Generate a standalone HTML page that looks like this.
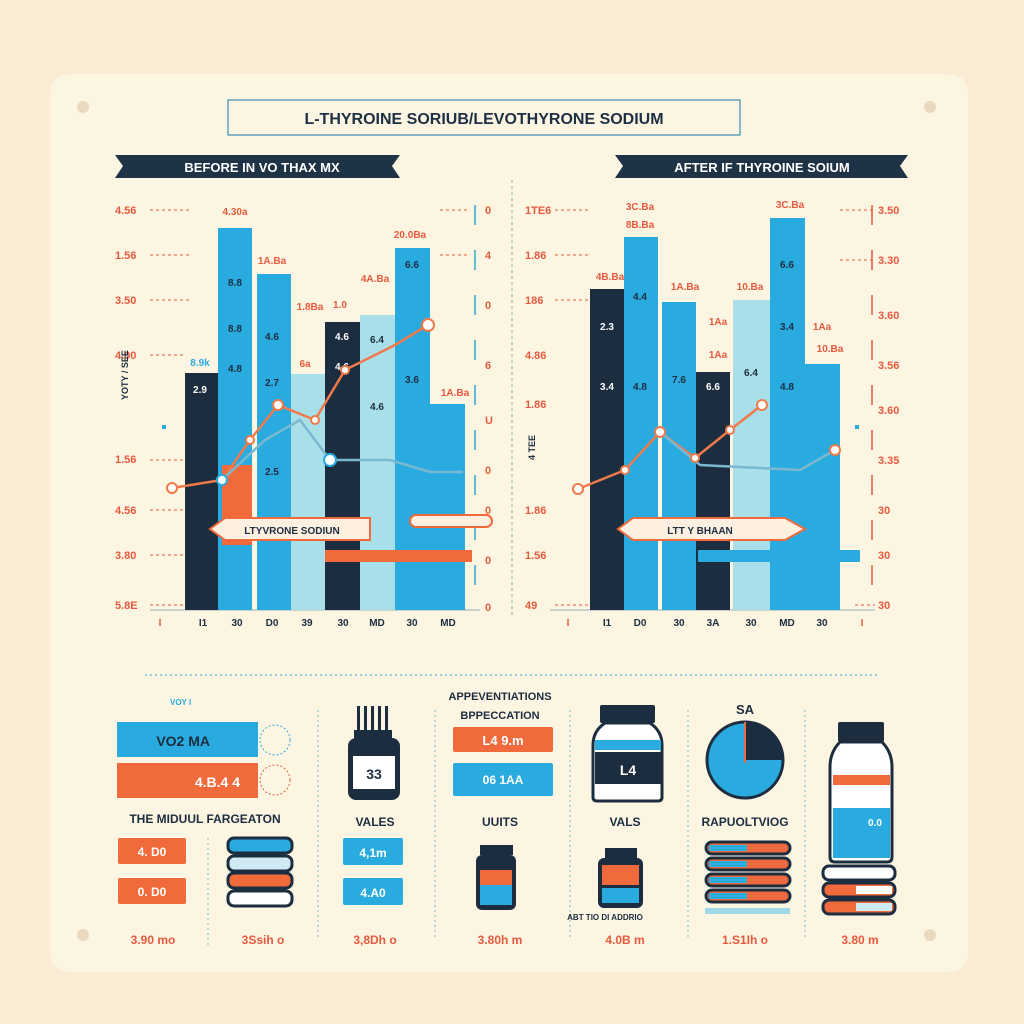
<!DOCTYPE html>
<html><head><meta charset="utf-8"><style>
html,body{margin:0;padding:0;background:#f9ebd4}
svg{display:block}
text{font-family:"Liberation Sans",sans-serif;font-weight:bold}
</style></head><body>
<svg width="1024" height="1024" viewBox="0 0 1024 1024" xmlns="http://www.w3.org/2000/svg">
<rect width="1024" height="1024" fill="#f9ebd4"/>
<rect x="50" y="74" width="918" height="898" rx="18" fill="#fcf5e2"/>
<circle cx="83" cy="107" r="6" fill="#ead9bf"/><circle cx="930" cy="107" r="6" fill="#ead9bf"/>
<circle cx="83" cy="935" r="6" fill="#ead9bf"/><circle cx="930" cy="935" r="6" fill="#ead9bf"/>
<!-- title -->
<rect x="228" y="100" width="512" height="35" fill="none" stroke="#3a8fb5" stroke-width="1.2"/>
<text x="484" y="124" font-size="16" text-anchor="middle" fill="#1d2f45">L-THYROINE SORIUB/LEVOTHYRONE SODIUM</text>
<!-- banners -->
<polygon points="115,155 400,155 392,166 400,178 115,178 123,166" fill="#1f3347"/>
<text x="262" y="172" font-size="13" text-anchor="middle" fill="#fff">BEFORE IN   VO THAX MX</text>
<polygon points="615,155 908,155 900,166 908,178 615,178 623,166" fill="#1f3347"/>
<text x="762" y="172" font-size="13" text-anchor="middle" fill="#fff">AFTER IF THYROINE SOIUM</text>
<line x1="512" y1="180" x2="512" y2="615" stroke="#8aa" stroke-dasharray="3,3"/>
<!-- left axes -->
<g fill="#e65a3f" font-size="11">
<text x="115" y="214">4.56</text><text x="115" y="259">1.56</text><text x="115" y="304">3.50</text><text x="115" y="359">4.00</text><text x="115" y="463">1.56</text><text x="115" y="514">4.56</text><text x="115" y="559">3.80</text><text x="115" y="609">5.8E</text>
<text x="485" y="214">0</text><text x="485" y="259">4</text><text x="485" y="309">0</text><text x="485" y="369">6</text><text x="485" y="424">U</text><text x="485" y="474">0</text><text x="485" y="514">0</text><text x="485" y="564">0</text><text x="485" y="611">0</text>
<text x="525" y="214">1TE6</text><text x="525" y="259">1.86</text><text x="525" y="304">186</text><text x="525" y="359">4.86</text><text x="525" y="408">1.86</text><text x="525" y="514">1.86</text><text x="525" y="559">1.56</text><text x="525" y="609">49</text>
<text x="878" y="214">3.50</text><text x="878" y="264">3.30</text><text x="878" y="319">3.60</text><text x="878" y="369">3.56</text><text x="878" y="414">3.60</text><text x="878" y="464">3.35</text><text x="878" y="514">30</text><text x="878" y="559">30</text><text x="878" y="609">30</text>
</g>
<g stroke="#e65a3f" stroke-dasharray="3,3" stroke-width="1">
<line x1="150" y1="210" x2="190" y2="210"/><line x1="150" y1="255" x2="190" y2="255"/><line x1="150" y1="300" x2="190" y2="300"/><line x1="150" y1="355" x2="185" y2="355"/><line x1="150" y1="460" x2="185" y2="460"/><line x1="150" y1="510" x2="185" y2="510"/><line x1="150" y1="555" x2="185" y2="555"/><line x1="150" y1="605" x2="185" y2="605"/>
<line x1="440" y1="210" x2="470" y2="210"/><line x1="440" y1="255" x2="470" y2="255"/>
<line x1="555" y1="210" x2="590" y2="210"/><line x1="555" y1="255" x2="590" y2="255"/><line x1="555" y1="300" x2="590" y2="300"/><line x1="555" y1="605" x2="590" y2="605"/>
<line x1="840" y1="210" x2="875" y2="210"/><line x1="840" y1="260" x2="875" y2="260"/><line x1="855" y1="605" x2="875" y2="605"/>
</g>
<line x1="475" y1="205" x2="475" y2="610" stroke="#2fa5d4" stroke-width="1.5" stroke-dasharray="20,25"/>
<line x1="872" y1="205" x2="872" y2="610" stroke="#e65a3f" stroke-width="1.5" stroke-dasharray="20,25"/>
<line x1="150" y1="610" x2="480" y2="610" stroke="#9ab" />
<line x1="550" y1="610" x2="875" y2="610" stroke="#9ab" />
<!-- left bars -->
<rect x="185" y="373" width="33" height="237" fill="#1c2d40"/>
<rect x="218" y="228" width="34" height="382" fill="#2aabe0"/>
<rect x="222" y="465" width="30" height="80" fill="#f06a3c"/>
<rect x="257" y="274" width="34" height="336" fill="#2aabe0"/>
<rect x="291" y="374" width="34" height="236" fill="#a9dfe8"/>
<rect x="325" y="322" width="35" height="288" fill="#1c2d40"/>
<rect x="360" y="315" width="35" height="295" fill="#a9dfe8"/>
<rect x="395" y="248" width="35" height="362" fill="#2aabe0"/>
<rect x="430" y="404" width="35" height="206" fill="#2aabe0"/>
<!-- right bars -->
<rect x="590" y="289" width="34" height="321" fill="#1c2d40"/>
<rect x="624" y="237" width="34" height="373" fill="#2aabe0"/>
<rect x="662" y="302" width="34" height="308" fill="#2aabe0"/>
<rect x="696" y="372" width="34" height="238" fill="#1c2d40"/>
<rect x="733" y="300" width="37" height="310" fill="#a9dfe8"/>
<rect x="770" y="218" width="35" height="392" fill="#2aabe0"/>
<rect x="805" y="364" width="35" height="246" fill="#2aabe0"/>
<!-- bar labels -->
<g font-size="10" fill="#1c2d40" text-anchor="middle">
<text x="235" y="286">8.8</text><text x="235" y="332">8.8</text><text x="235" y="372">4.8</text><text x="272" y="340">4.6</text><text x="272" y="386">2.7</text><text x="272" y="475">2.5</text><text x="342" y="340" fill="#fff">4.6</text><text x="342" y="370" fill="#fff">4.6</text><text x="377" y="343">6.4</text><text x="377" y="410">4.6</text><text x="412" y="268">6.6</text><text x="412" y="383">3.6</text><text x="200" y="366" fill="#2aabe0">8.9k</text><text x="200" y="393" fill="#fff">2.9</text>
<text x="607" y="330" fill="#fff">2.3</text><text x="607" y="390" fill="#fff">3.4</text><text x="640" y="300">4.4</text><text x="640" y="390">4.8</text><text x="679" y="383">7.6</text><text x="713" y="390" fill="#fff">6.6</text><text x="751" y="376">6.4</text><text x="787" y="268">6.6</text><text x="787" y="330">3.4</text><text x="787" y="390">4.8</text>
</g>
<g font-size="10" fill="#e65a3f" text-anchor="middle">
<text x="235" y="215">4.30a</text><text x="272" y="264">1A.Ba</text><text x="310" y="310">1.8Ba</text><text x="340" y="308">1.0</text><text x="375" y="282">4A.Ba</text><text x="410" y="238">20.0Ba</text><text x="305" y="367">6a</text><text x="455" y="396">1A.Ba</text>
<text x="640" y="210">3C.Ba</text><text x="640" y="228">8B.Ba</text><text x="610" y="280">4B.Ba</text><text x="685" y="290">1A.Ba</text><text x="718" y="325">1Aa</text><text x="718" y="358">1Aa</text><text x="750" y="290">10.Ba</text><text x="790" y="208">3C.Ba</text><text x="822" y="330">1Aa</text><text x="830" y="352">10.Ba</text>
</g>
<!-- lines left -->
<polyline points="172,488 222,480 250,440 278,405 315,420 345,370 395,345 428,325" fill="none" stroke="#f07a4a" stroke-width="2.5"/>
<polyline points="222,480 265,440 300,420 330,460 390,460 430,472 463,472" fill="none" stroke="#7ab8d0" stroke-width="2.5"/>
<g fill="#fff" stroke="#f07a4a" stroke-width="2"><circle cx="172" cy="488" r="5"/><circle cx="250" cy="440" r="4"/><circle cx="278" cy="405" r="5"/><circle cx="315" cy="420" r="4"/><circle cx="345" cy="370" r="4"/><circle cx="428" cy="325" r="6"/></g>
<g fill="#fff" stroke="#2aabe0" stroke-width="2"><circle cx="222" cy="480" r="5"/><circle cx="330" cy="460" r="6"/></g>
<!-- lines right -->
<polyline points="578,489 625,470 660,432 695,458 730,430 762,405" fill="none" stroke="#f07a4a" stroke-width="2.5"/>
<polyline points="660,432 700,465 760,468 800,470 835,450" fill="none" stroke="#7ab8d0" stroke-width="2.5"/>
<g fill="#fff" stroke="#f07a4a" stroke-width="2"><circle cx="578" cy="489" r="5"/><circle cx="625" cy="470" r="4"/><circle cx="660" cy="432" r="5"/><circle cx="695" cy="458" r="4"/><circle cx="730" cy="430" r="4"/><circle cx="762" cy="405" r="5"/><circle cx="835" cy="450" r="5"/></g>
<!-- arrows -->
<polygon points="210,529 225,518 370,518 370,540 225,540" fill="#fdf0e0" stroke="#f06a3c" stroke-width="2"/>
<text x="292" y="534" font-size="10" text-anchor="middle" fill="#1c2d40">LTYVRONE SODIUN</text>
<rect x="410" y="515" width="82" height="12" rx="6" fill="#fdf0e0" stroke="#f06a3c" stroke-width="2"/>
<rect x="325" y="550" width="147" height="12" fill="#f06a3c"/>
<polygon points="618,529 633,518 785,518 805,529 785,540 633,540" fill="#fdf0e0" stroke="#f06a3c" stroke-width="2"/>
<text x="700" y="534" font-size="10" text-anchor="middle" fill="#1c2d40">LTT   Y BHAAN</text>
<rect x="698" y="550" width="162" height="12" fill="#2aabe0"/>
<rect x="162" y="425" width="4" height="4" fill="#2aabe0"/><rect x="855" y="425" width="4" height="4" fill="#2aabe0"/>
<text x="128" y="400" font-size="9" fill="#1c2d40" transform="rotate(-90 128 400)">YOTY / SEE</text>
<text x="535" y="460" font-size="9" fill="#1c2d40" transform="rotate(-90 535 460)">4 TEE</text>
<!-- x labels -->
<g font-size="10" fill="#1c2d40" text-anchor="middle">
<text x="160" y="626" fill="#e65a3f">I</text><text x="203" y="626">I1</text><text x="237" y="626">30</text><text x="272" y="626">D0</text><text x="307" y="626">39</text><text x="343" y="626">30</text><text x="377" y="626">MD</text><text x="412" y="626">30</text><text x="448" y="626">MD</text>
<text x="568" y="626" fill="#e65a3f">I</text><text x="607" y="626">I1</text><text x="640" y="626">D0</text><text x="679" y="626">30</text><text x="713" y="626">3A</text><text x="751" y="626">30</text><text x="787" y="626">MD</text><text x="822" y="626">30</text><text x="862" y="626" fill="#e65a3f">I</text>
</g>
<!-- bottom -->
<line x1="145" y1="675" x2="880" y2="675" stroke="#2fa5d4" stroke-dasharray="2,3"/>
<g stroke="#7ab8d0" stroke-dasharray="2,3"><line x1="318" y1="710" x2="318" y2="940"/><line x1="435" y1="710" x2="435" y2="940"/><line x1="570" y1="710" x2="570" y2="940"/><line x1="688" y1="710" x2="688" y2="940"/><line x1="805" y1="710" x2="805" y2="940"/><line x1="208" y1="838" x2="208" y2="945"/></g>
<rect x="117" y="722" width="141" height="35" fill="#2aabe0"/><text x="210" y="746" font-size="14" text-anchor="end" fill="#1c2d40">VO2 MA</text>
<rect x="117" y="763" width="141" height="35" fill="#f06a3c"/><text x="240" y="787" font-size="14" text-anchor="end" fill="#fff">4.B.4 4</text>
<circle cx="275" cy="740" r="15" fill="none" stroke="#2aabe0" stroke-dasharray="2,2"/><circle cx="275" cy="780" r="15" fill="none" stroke="#e65a3f" stroke-dasharray="2,2"/>
<text x="170" y="705" font-size="8" fill="#2aabe0">VOY  I</text>
<text x="205" y="823" font-size="12" text-anchor="middle" fill="#1c2d40">THE MIDUUL  FARGEATON</text>
<rect x="118" y="838" width="68" height="26" rx="2" fill="#f06a3c"/><text x="152" y="856" font-size="12" text-anchor="middle" fill="#fff">4. D0</text>
<rect x="118" y="878" width="68" height="26" rx="2" fill="#f06a3c"/><text x="152" y="896" font-size="12" text-anchor="middle" fill="#fff">0. D0</text>
<g stroke="#1c2d40" stroke-width="3"><rect x="228" y="838" width="64" height="15" rx="6" fill="#2aabe0"/><rect x="228" y="856" width="64" height="15" rx="6" fill="#cfeaf2"/><rect x="228" y="873" width="64" height="15" rx="6" fill="#f06a3c"/><rect x="228" y="891" width="64" height="15" rx="6" fill="#fff"/></g>
<!-- bottle 33 -->
<g fill="#1c2d40"><rect x="357" y="706" width="3" height="25"/><rect x="364" y="706" width="3" height="25"/><rect x="371" y="706" width="3" height="25"/><rect x="378" y="706" width="3" height="25"/><rect x="385" y="706" width="3" height="25"/><rect x="354" y="730" width="38" height="8"/><rect x="348" y="738" width="52" height="62" rx="8"/></g>
<rect x="353" y="756" width="42" height="33" fill="#fff"/><text x="374" y="779" font-size="14" text-anchor="middle" fill="#1c2d40">33</text>
<text x="375" y="826" font-size="12" text-anchor="middle" fill="#1c2d40">VALES</text>
<rect x="343" y="838" width="60" height="27" rx="2" fill="#2aabe0"/><text x="373" y="857" font-size="12" text-anchor="middle" fill="#fff">4,1m</text>
<rect x="343" y="878" width="60" height="27" rx="2" fill="#2aabe0"/><text x="373" y="897" font-size="12" text-anchor="middle" fill="#fff">4.A0</text>
<text x="500" y="700" font-size="11" text-anchor="middle" fill="#1c2d40">APPEVENTIATIONS</text>
<text x="500" y="719" font-size="11" text-anchor="middle" fill="#1c2d40">BPPECCATION</text>
<rect x="453" y="727" width="100" height="25" rx="2" fill="#f06a3c"/><text x="503" y="745" font-size="13" text-anchor="middle" fill="#fff">L4    9.m</text>
<rect x="453" y="763" width="100" height="33" rx="2" fill="#2aabe0"/><text x="503" y="784" font-size="12" text-anchor="middle" fill="#fff">06    1AA</text>
<text x="500" y="826" font-size="12" text-anchor="middle" fill="#1c2d40">UUITS</text>
<rect x="480" y="845" width="33" height="10" fill="#1c2d40"/><rect x="476" y="855" width="40" height="55" rx="6" fill="#1c2d40"/><rect x="480" y="870" width="32" height="15" fill="#f06a3c"/><rect x="480" y="885" width="32" height="20" fill="#2aabe0"/>
<!-- bottle L4 -->
<rect x="600" y="705" width="55" height="18" rx="2" fill="#1c2d40"/>
<path d="M605,723 h45 q12,8 12,22 v52 q0,4 -4,4 h-61 q-4,0 -4,-4 v-52 q0,-14 12,-22z" fill="#fff" stroke="#1c2d40" stroke-width="3"/>
<rect x="595" y="752" width="66" height="32" fill="#1c2d40"/><rect x="595" y="740" width="66" height="10" fill="#2aabe0"/><text x="628" y="775" font-size="14" text-anchor="middle" fill="#fff">L4</text>
<text x="625" y="826" font-size="12" text-anchor="middle" fill="#1c2d40">VALS</text>
<rect x="605" y="848" width="32" height="10" fill="#1c2d40"/><rect x="598" y="858" width="45" height="50" rx="6" fill="#1c2d40"/><rect x="602" y="865" width="37" height="20" fill="#f06a3c"/><rect x="602" y="888" width="37" height="15" fill="#2aabe0"/>
<text x="605" y="920" font-size="8" text-anchor="middle" fill="#1c2d40">ABT TIO DI ADDRIO</text>
<!-- pie -->
<text x="745" y="714" font-size="13" text-anchor="middle" fill="#1c2d40">SA</text>
<circle cx="745" cy="760" r="38" fill="#2aabe0" stroke="#1c2d40" stroke-width="3"/>
<path d="M745,760 V722 A38,38 0 0 1 783,760 Z" fill="#1c2d40"/><line x1="745" y1="722" x2="745" y2="763" stroke="#f06a3c" stroke-width="2"/>
<text x="745" y="826" font-size="12" text-anchor="middle" fill="#1c2d40">RAPUOLTVIOG</text>
<g stroke="#1c2d40" stroke-width="3"><rect x="706" y="842" width="84" height="12" rx="6" fill="#f06a3c"/><rect x="706" y="858" width="84" height="12" rx="6" fill="#f06a3c"/><rect x="706" y="874" width="84" height="12" rx="6" fill="#f06a3c"/><rect x="706" y="890" width="84" height="12" rx="6" fill="#f06a3c"/></g>
<g fill="#2aabe0"><rect x="709" y="845" width="38" height="6"/><rect x="709" y="861" width="38" height="6"/><rect x="709" y="877" width="38" height="6"/><rect x="709" y="893" width="38" height="6"/></g>
<rect x="705" y="908" width="85" height="6" fill="#9fd8e6"/>
<!-- tall bottle -->
<rect x="838" y="722" width="46" height="20" rx="2" fill="#1c2d40"/>
<path d="M840,742 h42 q10,10 10,25 v90 q0,5 -5,5 h-52 q-5,0 -5,-5 v-90 q0,-15 10,-25z" fill="#fff" stroke="#1c2d40" stroke-width="3"/>
<rect x="833" y="775" width="57" height="10" fill="#f06a3c"/><rect x="833" y="808" width="57" height="50" fill="#2aabe0"/><text x="868" y="826" font-size="10" fill="#fff">0.0</text>
<g stroke="#1c2d40" stroke-width="3"><rect x="823" y="866" width="72" height="14" rx="6" fill="#fff"/><rect x="823" y="883" width="72" height="14" rx="6" fill="#f06a3c"/><rect x="823" y="900" width="72" height="14" rx="6" fill="#f06a3c"/></g>
<rect x="856" y="886" width="36" height="8" fill="#fff"/><rect x="856" y="903" width="36" height="8" fill="#cfeaf2"/>
<!-- bottom values -->
<g font-size="12" fill="#e65a3f" text-anchor="middle">
<text x="153" y="944">3.90 mo</text><text x="263" y="944">3Ssih o</text><text x="375" y="944">3,8Dh o</text><text x="500" y="944">3.80h m</text><text x="625" y="944">4.0B m</text><text x="745" y="944">1.S1Ih o</text><text x="860" y="944">3.80 m</text>
</g>
</svg>
</body></html>
